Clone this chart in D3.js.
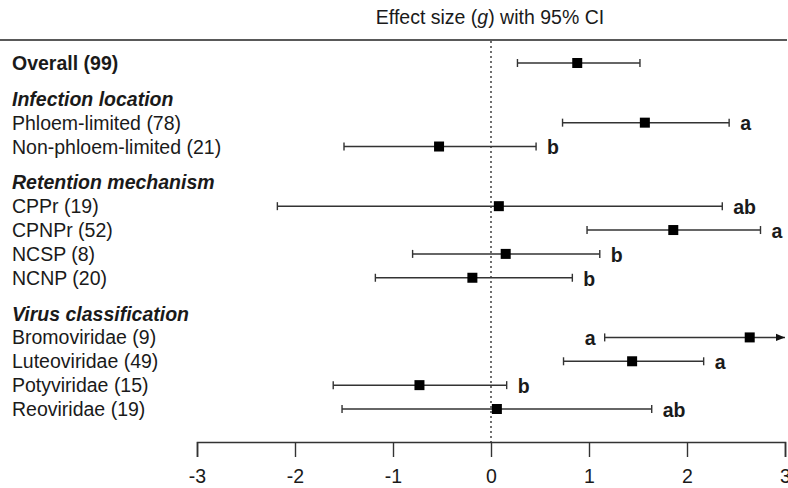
<!DOCTYPE html>
<html>
<head>
<meta charset="utf-8">
<script src="https://cdn.jsdelivr.net/npm/d3@7"></script>
<style>
  body { margin: 0; background: #fff; }
  svg text { font-family: Arial, "Liberation Sans", sans-serif; fill: #1a1a1a; }
</style>
</head>
<body>
<div id="chart"></div>
<script>
// rows top to bottom; kind: overall / header / item
const labels = [
  "Overall (99)",
  "Infection location", "Phloem-limited (78)", "Non-phloem-limited (21)",
  "Retention mechanism", "CPPr (19)", "CPNPr (52)", "NCSP (8)", "NCNP (20)",
  "Virus classification", "Bromoviridae (9)", "Luteoviridae (49)", "Potyviridae (15)", "Reoviridae (19)"
];
const kinds = [
  "overall",
  "header", "item", "item",
  "header", "item", "item", "item", "item",
  "header", "item", "item", "item", "item"
];
const effect = [0.88, null, 1.57, -0.53, null, 0.08, 1.86, 0.15, -0.19, null, 2.64, 1.44, -0.73, 0.06];
const lower  = [0.27, null, 0.73, -1.50, null, -2.18, 0.98, -0.80, -1.18, null, 1.16, 0.74, -1.61, -1.52];
const upper  = [1.52, null, 2.43, 0.46, null, 2.36, 2.75, 1.11, 0.83, null, 3.6, 2.17, 0.16, 1.64];
const groups = ["", "", "a", "b", "", "ab", "a", "b", "b", "", "a", "a", "b", "ab"];
const xTicks = [-3, -2, -1, 0, 1, 2, 3];

const width = 788, height = 488;
const xMin = -3, xMax = 3;
const fontSize = 19.5;

// row index with an extra half step before each header
let pos = -1;
const rows = labels.map((label, i) => {
  pos += kinds[i] === "header" ? 1.5 : 1;
  return { label, kind: kinds[i], g: effect[i], lo: lower[i], hi: upper[i], grp: groups[i], pos };
});

const x = d3.scaleLinear([xMin, xMax], [197, 785]);
const y = d3.scaleLinear([0, d3.max(rows, d => d.pos)], [63, 409]);
const axisY = 442;

const svg = d3.select("#chart").append("svg")
  .attr("width", width).attr("height", height);

svg.append("defs").append("marker")
  .attr("id", "arrow")
  .attr("viewBox", "0 0 10 10")
  .attr("refX", 10).attr("refY", 5)
  .attr("markerWidth", 9).attr("markerHeight", 9)
  .attr("markerUnits", "userSpaceOnUse")
  .attr("orient", "auto")
  .append("path").attr("d", "M0,1L10,5L0,9Z").attr("fill", "#111");

// header rule + title
svg.append("line")
  .attr("x1", 0).attr("x2", 787).attr("y1", 40).attr("y2", 40)
  .attr("stroke", "#222").attr("stroke-width", 1.6);

const title = svg.append("text")
  .attr("x", 490).attr("y", 24)
  .attr("text-anchor", "middle")
  .attr("font-size", fontSize);
title.append("tspan").text("Effect size (");
title.append("tspan").attr("font-style", "italic").text("g");
title.append("tspan").text(") with 95% CI");

// zero reference
svg.append("line")
  .attr("x1", x(0)).attr("x2", x(0)).attr("y1", 41).attr("y2", axisY)
  .attr("stroke", "#222").attr("stroke-width", 1.3)
  .attr("stroke-dasharray", "2,3");

// axis
const axis = svg.append("g")
  .attr("transform", `translate(0,${axisY})`)
  .call(d3.axisBottom(x).tickValues(xTicks).tickFormat(d => String(d))
    .tickSize(15).tickSizeOuter(15).tickPadding(12));
axis.select(".domain").attr("stroke", "#333").attr("stroke-width", 1.6);
axis.selectAll(".tick line").attr("stroke", "#333").attr("stroke-width", 1.4);
axis.selectAll(".tick text")
  .attr("font-size", fontSize).attr("fill", "#1a1a1a")
  .attr("font-family", "Arial, 'Liberation Sans', sans-serif");

// row labels
svg.append("g").selectAll("text")
  .data(rows).join("text")
  .attr("x", 12)
  .attr("y", d => y(d.pos))
  .attr("dy", "0.36em")
  .attr("font-size", fontSize)
  .attr("font-weight", d => d.kind === "item" ? "normal" : "bold")
  .attr("font-style", d => d.kind === "header" ? "italic" : "normal")
  .text(d => d.label);

const est = rows.filter(d => d.g != null);
const bars = svg.append("g").selectAll("g")
  .data(est).join("g")
  .attr("transform", d => `translate(0,${y(d.pos)})`);

bars.append("line")
  .attr("x1", d => x(d.lo))
  .attr("x2", d => x(Math.min(d.hi, xMax)))
  .attr("stroke", "#333").attr("stroke-width", 1.5)
  .attr("marker-end", d => d.hi > xMax ? "url(#arrow)" : null);

bars.selectAll(".cap")
  .data(d => (d.hi > xMax ? [d.lo] : [d.lo, d.hi]))
  .join("line").attr("class", "cap")
  .attr("x1", v => x(v)).attr("x2", v => x(v))
  .attr("y1", -4).attr("y2", 4)
  .attr("stroke", "#333").attr("stroke-width", 1.4);

bars.append("rect")
  .attr("x", d => x(d.g) - 5).attr("y", -5)
  .attr("width", 10).attr("height", 10)
  .attr("fill", "#000");

bars.append("text")
  .attr("x", d => d.hi > xMax ? x(d.lo) - 9 : x(d.hi) + 11)
  .attr("text-anchor", d => d.hi > xMax ? "end" : "start")
  .attr("dy", "0.4em")
  .attr("font-size", fontSize).attr("font-weight", "bold")
  .text(d => d.grp);
</script>
</body>
</html>
